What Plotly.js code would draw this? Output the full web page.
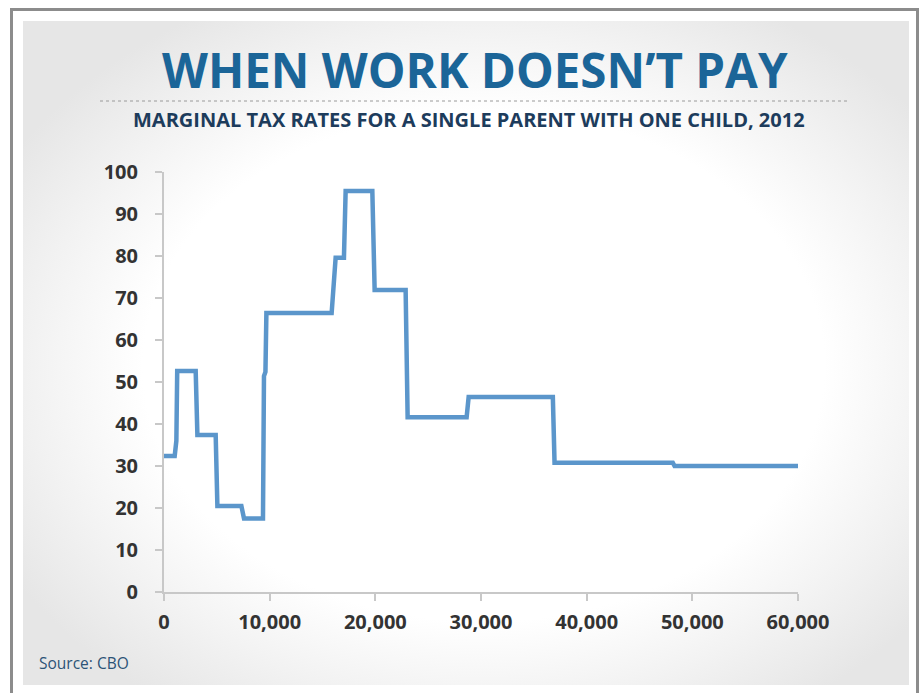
<!DOCTYPE html>
<html>
<head>
<meta charset="utf-8">
<script src="https://cdn.plot.ly/plotly-3.0.1.min.js"></script>
<style>
  html, body { margin: 0; padding: 0; background: #ffffff; }
  #wrap { position: relative; width: 922px; height: 693px; overflow: hidden; }
  #frame { position: absolute; left: 10px; top: 8px; width: 909px; height: 700px;
           border-top: 3px solid #8c8c8c; border-left: 3px solid #8c8c8c; border-right: 3px solid #8c8c8c;
           box-sizing: border-box; }
  #panel { position: absolute; left: 23px; top: 21px; width: 886px; height: 664px;
           background: radial-gradient(ellipse 62% 62% at 52% 52%, #ffffff 62%, #f2f2f2 82%, #e6e6e6 100%); }
  #chart { position: absolute; left: 0; top: 0; width: 922px; height: 693px; }
</style>
</head>
<body>
<div id="wrap">
  <div id="frame"></div>
  <div id="panel"></div>
  <div id="chart"></div>
</div>
<script>
// Income (dollars) at each vertex of the marginal tax rate step line
const income = [0, 1012, 1170, 1250, 2999, 3160, 4891, 5052, 7323, 7570, 9367, 9461, 9600, 9690,
                15865, 15950, 16054, 16244, 17030, 17190, 19716, 19934, 22867, 23056,
                28640, 28830, 36800, 36960, 48150, 48320, 60000];
// Marginal tax rate (%) at each vertex
const taxRate = [32.4, 32.4, 36.0, 52.6, 52.6, 37.4, 37.4, 20.5, 20.5, 17.5, 17.5, 51.4, 52.4, 66.4,
                 66.4, 69.5, 70.0, 79.6, 79.6, 95.5, 95.5, 71.9, 71.9, 41.6,
                 41.6, 46.4, 46.4, 30.8, 30.8, 30.0, 30.0];
const xTicks = [0, 10000, 20000, 30000, 40000, 50000, 60000];
const xTickLabels = ["0", "10,000", "20,000", "30,000", "40,000", "50,000", "60,000"];
const yTicks = [0, 10, 20, 30, 40, 50, 60, 70, 80, 90, 100];

const titleText = "WHEN WORK DOESN\u2019T PAY";
const subtitleText = "MARGINAL TAX RATES FOR A SINGLE PARENT WITH ONE CHILD, 2012";
const sourceText = "Source: CBO";

const trace = {
  x: income, y: taxRate, type: "scatter", mode: "lines",
  line: { color: "#5b96cb", width: 4.5, shape: "linear" },
  cliponaxis: false, hoverinfo: "x+y"
};

const axisFont = { family: "Open Sans, sans-serif", size: 20, color: "#333333", weight: 700 };

const layout = {
  width: 922, height: 693,
  margin: { l: 164, r: 124, t: 172, b: 101 },
  paper_bgcolor: "rgba(0,0,0,0)",
  plot_bgcolor: "rgba(0,0,0,0)",
  showlegend: false,
  xaxis: {
    range: [0, 60000], fixedrange: true,
    tickvals: xTicks, ticktext: xTickLabels,
    showgrid: false, zeroline: false,
    showline: true, linecolor: "#c8c8c8", linewidth: 2,
    ticks: "outside", ticklen: 7, tickwidth: 2, tickcolor: "#c8c8c8",
    tickfont: axisFont, ticklabelstandoff: 4
  },
  yaxis: {
    range: [0, 100], fixedrange: true,
    tickvals: yTicks,
    showgrid: false, zeroline: false,
    showline: true, linecolor: "#c8c8c8", linewidth: 2,
    ticks: "outside", ticklen: 7, tickwidth: 2, tickcolor: "#c8c8c8",
    tickfont: axisFont, ticklabelstandoff: 13
  },
  shapes: [
    { type: "line", xref: "paper", yref: "paper",
      x0: (100 - 164) / 634, x1: (850 - 164) / 634,
      y0: (592 - 101) / 420, y1: (592 - 101) / 420,
      line: { color: "#9a9a9a", width: 1, dash: "dot" } }
  ],
  annotations: [
    { text: titleText, xref: "paper", yref: "paper",
      x: (475 - 164) / 634, y: (592 - 70) / 420, xanchor: "center", yanchor: "middle",
      showarrow: false,
      font: { family: "Open Sans, sans-serif", size: 47.5, color: "#1b6598", weight: 700 } },
    { text: subtitleText, xref: "paper", yref: "paper",
      x: (469 - 164) / 634, y: (592 - 119.5) / 420, xanchor: "center", yanchor: "middle",
      showarrow: false,
      font: { family: "Open Sans, sans-serif", size: 20, color: "#1d3c5c", weight: 700 } },
    { text: sourceText, xref: "paper", yref: "paper",
      x: (37 - 164) / 634, y: (592 - 663) / 420, xanchor: "left", yanchor: "middle",
      showarrow: false,
      font: { family: "Open Sans, sans-serif", size: 15.5, color: "#2c5377" } }
  ]
};

Plotly.newPlot("chart", [trace], layout, { displayModeBar: false, staticPlot: true });
</script>
</body>
</html>
